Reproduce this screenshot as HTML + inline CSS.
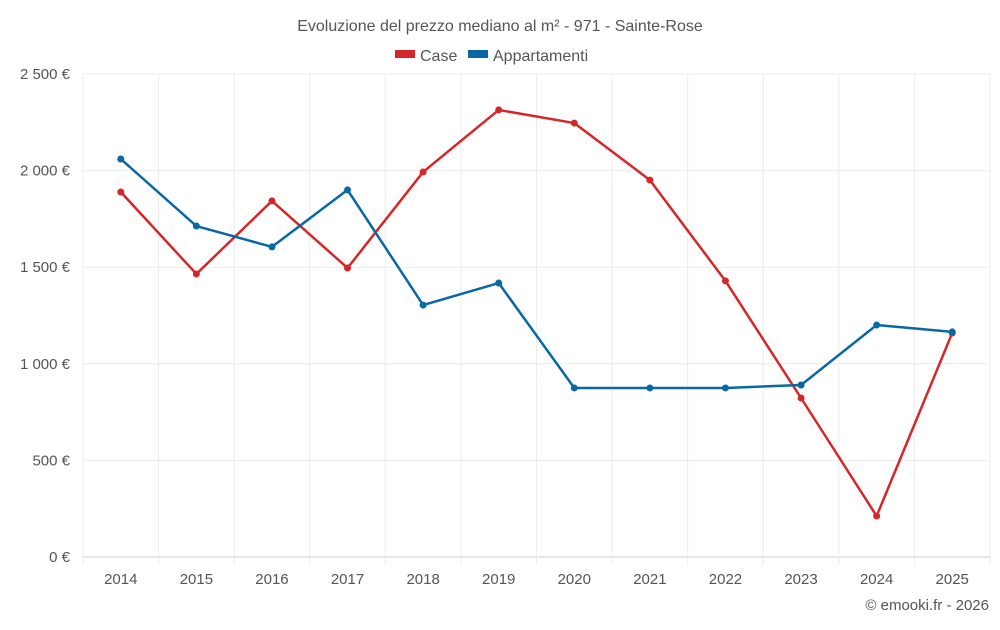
<!DOCTYPE html>
<html><head><meta charset="utf-8"><style>
body{margin:0;background:#fff;font-family:"Liberation Sans",Roboto,sans-serif;}
svg text{font-family:"Liberation Sans",sans-serif;fill:#555;}
</style></head><body>
<svg id="chart" width="1000" height="625">
<text x="500" y="31" text-anchor="middle" font-size="16">Evoluzione del prezzo mediano al m² - 971 - Sainte-Rose</text>
<g>
<g><rect x="395" y="50" width="20" height="8" fill="#d62728"/><text x="420" y="61" font-size="16">Case</text></g>
<g><rect x="468" y="50" width="20" height="8" fill="#0868a6"/><text x="493" y="61" font-size="16">Appartamenti</text></g>
</g>
<g id="grid"></g><g id="axes"></g><g id="series"></g>
<text x="989" y="610" text-anchor="end" font-size="15">© emooki.fr - 2026</text>
</svg>
<script>
const years=[2014,2015,2016,2017,2018,2019,2020,2021,2022,2023,2024,2025];
const caseValues=[1889,1465,1843,1496,1993,2314,2246,1951,1429,823,212,1159];
const apptValues=[2060,1713,1605,1900,1304,1418,875,875,875,890,1201,1165];
const yTicks=[0,500,1000,1500,2000,2500];
const yTickLabels=["0 €","500 €","1 000 €","1 500 €","2 000 €","2 500 €"];
const L=83,R=990,T=74,B=557,yMax=2500;
const NS="http://www.w3.org/2000/svg";
const bw=(R-L)/years.length;
function xS(i){return L+bw*(i+0.5);}
function yS(v){return B-(v/yMax)*(B-T);}
function mk(tag,attrs,parent){const e=document.createElementNS(NS,tag);for(const k in attrs)e.setAttribute(k,attrs[k]);parent.appendChild(e);return e;}
const grid=document.getElementById('grid'),axes=document.getElementById('axes'),ser=document.getElementById('series');
yTicks.forEach((t,i)=>{
 const l=mk('line',{x1:L,x2:R,y1:yS(t),y2:yS(t),stroke:i==0?'#ccc':'#ececec','stroke-width':1},grid);
 
 
 const tx=mk('text',{x:70,y:yS(t)+5,'text-anchor':'end','font-size':15},axes);tx.textContent=yTickLabels[i];
 
 
});
for(let i=0;i<=years.length;i++){
 const l=mk('line',{x1:L+bw*i,x2:L+bw*i,y1:T,y2:B+(1?8:0),stroke:'#ececec'},grid);
 
 
}
years.forEach((y,i)=>{
 const tx=mk('text',{x:xS(i),y:584,'text-anchor':'middle','font-size':15},axes);tx.textContent=y;
 
 
});
function drawSeries(vals,color,name){
 const g=mk('g',{},ser);
 
 
 const p=mk('polyline',{points:vals.map((v,i)=>xS(i)+','+yS(v)).join(' '),fill:'none',stroke:color,'stroke-width':2.5,'stroke-linejoin':'round'},g);
 
 
 vals.forEach((v,i)=>{
  const c=mk('circle',{cx:xS(i),cy:yS(v),r:3.5,fill:color},g);
  
  
 });
}
drawSeries(caseValues,'#d62728','case');
drawSeries(apptValues,'#0868a6','appartamenti');
</script>
</body></html>
